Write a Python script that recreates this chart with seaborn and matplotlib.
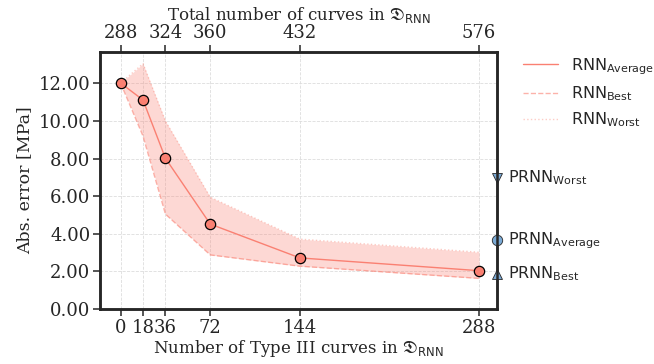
import matplotlib
matplotlib.use("Agg")
import matplotlib.pyplot as plt
import seaborn as sns
import numpy as np
import pandas as pd
from matplotlib.lines import Line2D

# Number of Type III curves added to the RNN training set
type3_curves = [0, 18, 36, 72, 144, 288]
base_curves = 288
top_ticks = [0, 36, 72, 144, 288]

# RNN absolute errors [MPa]
rnn_average = [12.02, 11.12, 8.02, 4.52, 2.72, 2.04]
rnn_best = [12.02, 9.20, 5.05, 2.88, 2.28, 1.63]
rnn_worst = [12.02, 13.05, 10.00, 5.95, 3.72, 3.02]

# PRNN reference errors [MPa]
prnn_labels = ["Worst", "Average", "Best"]
prnn_values = [6.98, 3.65, 1.88]
prnn_markers = ["v", "o", "^"]

sns.set_theme(style="ticks")
plt.rcParams["font.family"] = ["DejaVu Serif"]
plt.rcParams["mathtext.fontset"] = "dejavusans"

salmon = "#fa8072"
blue = "#7aaad6"
edge = "#262626"

fig = plt.figure(figsize=(6.54, 3.64), dpi=100)
ax = fig.add_axes([0.153, 0.151, 0.607, 0.706])

df = pd.DataFrame({"n": type3_curves, "avg": rnn_average,
                   "best": rnn_best, "worst": rnn_worst})

ax.fill_between(df["n"], df["best"], df["worst"], color=salmon, alpha=0.3, lw=0)
sns.lineplot(data=df, x="n", y="avg", ax=ax, color=salmon, lw=1.0)
sns.lineplot(data=df, x="n", y="best", ax=ax, color=salmon, lw=1.0, alpha=0.6,
             linestyle="--")
sns.lineplot(data=df, x="n", y="worst", ax=ax, color=salmon, lw=1.0, alpha=0.4,
             linestyle=":")
sns.scatterplot(data=df, x="n", y="avg", ax=ax, color=salmon, s=55,
                edgecolor="black", linewidth=0.9, zorder=5)

ax.set_xlim(-16.5, 302.4)
ax.set_ylim(0, 13.67)

# PRNN results drawn on the right spine
for lab, val, mk in zip(prnn_labels, prnn_values, prnn_markers):
    ax.plot([302.4], [val], marker=mk, ms=7.5, color=blue, mec=edge, mew=0.6,
            clip_on=False, zorder=6, ls="none")
    ax.annotate(r"PRNN$_\mathsf{" + lab + "}$", xy=(1.0, val),
                xycoords=("axes fraction", "data"), xytext=(8, 0),
                textcoords="offset points", va="center", ha="left",
                fontsize=11.5, family="DejaVu Sans")

ax.set_xticks(type3_curves)
ax.set_xticklabels([str(v) for v in type3_curves])
ax.set_yticks(np.arange(0, 13, 2))
ax.set_yticklabels([f"{v:.2f}" for v in np.arange(0, 13, 2)])
ax.grid(True, ls="--", lw=0.6, color="#dddddd")
ax.set_axisbelow(True)

ax.set_xlabel(r"Number of Type III curves in $\mathfrak{D}_\mathsf{RNN}$",
              fontsize=12, labelpad=1)
ax.set_ylabel("Abs. error [MPa]", fontsize=12.5, labelpad=4)
ax.tick_params(labelsize=13, length=5, width=1.1, color=edge, pad=2)

ax_top = ax.twiny()
ax_top.set_xlim(ax.get_xlim())
ax_top.set_xticks(top_ticks)
ax_top.set_xticklabels([str(base_curves + v) for v in top_ticks])
ax_top.tick_params(labelsize=13, length=5, width=1.1, color=edge, pad=2)
ax_top.set_xlabel(r"Total number of curves in $\mathfrak{D}_\mathsf{RNN}$",
                  fontsize=12, labelpad=3)

for a in (ax, ax_top):
    for s in a.spines.values():
        s.set_linewidth(1.8)
        s.set_color(edge)

handles = [
    Line2D([], [], color=salmon, lw=1.0),
    Line2D([], [], color=salmon, lw=1.0, alpha=0.6, ls="--"),
    Line2D([], [], color=salmon, lw=1.0, alpha=0.4, ls=":"),
]
labels = [r"RNN$_\mathsf{Average}$", r"RNN$_\mathsf{Best}$", r"RNN$_\mathsf{Worst}$"]
ax.legend(handles, labels, loc="upper left", bbox_to_anchor=(1.03, 1.04),
          frameon=False, prop={"family": "DejaVu Sans", "size": 11.5},
          handlelength=2.2, labelspacing=0.48)

fig.savefig("out.png", dpi=100)
